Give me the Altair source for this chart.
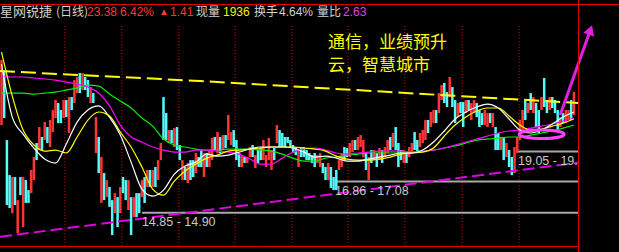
import altair as alt
import pandas as pd

# ---------------- data ----------------
hi = [27.68, 26.36, 19.97, 17.31, 17.17, 17.17, 15.63, 17.17, 17.17, 16.96,
      16.28, 17.67, 18.63, 19.73, 21.06, 20.22, 21.49, 21.06, 21.67, 22.57,
      23.51, 23.23, 22.57, 23.51, 23.51, 23.80, 23.80, 25.51, 25.83, 26.25,
      26.25, 25.83, 25.51, 24.79, 24.19, 21.93, 20.22, 18.63, 17.45, 16.96,
      16.49, 15.63, 16.08, 15.82, 16.49, 17.17, 16.96, 16.96, 15.82, 15.82,
      16.08, 16.08, 16.96, 17.17, 17.67, 17.67, 17.67, 17.89, 18.40, 19.73,
      23.80, 22.29, 20.80, 20.80, 20.97, 21.06, 19.57, 18.40, 17.89, 18.18,
      18.40, 18.40, 18.94, 18.63, 19.17, 18.94, 18.94, 19.17, 20.14, 20.22,
      20.63, 20.22, 20.38, 20.38, 22.11, 20.63, 20.80, 19.97, 18.94, 18.78,
      18.63, 18.63, 19.41, 19.57, 18.78, 19.17, 19.33, 19.97, 18.78, 20.14,
      19.17, 19.33, 21.23, 20.80, 20.55, 20.22, 20.22, 19.97, 19.57, 19.41,
      19.17, 19.33, 19.41, 19.17, 18.94, 18.78, 18.94, 18.78, 18.94, 18.18,
      17.89, 18.18, 17.89, 17.17, 17.67, 18.40, 18.94, 19.41, 19.33, 19.73,
      19.97, 19.97, 20.22, 20.38, 19.97, 19.01, 18.63, 19.17, 19.17, 18.94,
      19.33, 19.17, 19.41, 19.97, 20.22, 20.55, 21.06, 19.73, 19.17, 19.17,
      18.94, 19.41, 19.73, 20.63, 19.97, 20.55, 20.80, 21.67, 21.67, 22.39,
      22.57, 22.57, 24.19, 24.99, 25.20, 24.29, 25.83, 24.79, 23.51, 23.23,
      23.32, 23.32, 23.51, 23.51, 23.23, 23.51, 23.23, 22.57, 22.29, 22.57,
      22.29, 22.29, 22.29, 21.06, 20.55, 20.22, 20.22, 19.73, 19.17, 18.63,
      19.41, 20.22, 21.67, 22.57, 23.51, 23.23, 24.19, 23.80, 23.23, 22.57,
      23.80, 25.72, 23.51, 23.80, 23.80, 23.51, 22.57, 21.93, 22.29, 22.57,
      22.57, 23.51, 24.29]
lo = [21.23, 21.85, 15.32, 15.13, 14.82, 15.32, 13.66, 15.95, 14.00, 15.45,
      15.45, 16.08, 16.96, 18.40, 19.17, 19.17, 19.97, 19.73, 19.41, 20.63,
      21.85, 21.40, 21.40, 21.85, 21.93, 20.55, 22.57, 23.23, 24.19, 24.19,
      24.49, 24.49, 23.80, 23.23, 23.23, 18.94, 17.45, 15.45, 15.63, 15.82,
      15.20, 13.55, 14.82, 14.00, 14.82, 16.08, 15.63, 15.01, 13.55, 14.58,
      14.58, 14.82, 15.82, 15.45, 16.49, 16.49, 16.49, 16.49, 16.96, 18.40,
      19.97, 19.97, 19.73, 19.73, 19.41, 19.17, 18.40, 16.96, 16.96, 16.76,
      16.96, 17.17, 17.45, 17.89, 17.89, 17.17, 17.89, 17.89, 18.40, 19.17,
      18.94, 18.94, 19.17, 19.33, 19.97, 19.57, 19.41, 18.40, 17.89, 17.89,
      18.18, 18.18, 18.63, 18.63, 17.82, 18.18, 18.40, 18.40, 17.89, 18.40,
      17.67, 18.40, 19.73, 19.41, 19.41, 19.41, 19.73, 19.41, 18.94, 18.78,
      17.89, 18.63, 18.63, 18.40, 18.40, 18.18, 17.89, 18.18, 17.89, 17.45,
      16.96, 16.96, 16.42, 16.28, 16.28, 17.67, 17.89, 18.40, 18.63, 18.63,
      19.01, 19.17, 19.17, 19.41, 18.63, 17.67, 16.96, 18.18, 18.40, 17.89,
      18.40, 18.18, 18.63, 18.94, 19.17, 19.41, 19.17, 17.89, 18.40, 18.18,
      18.18, 18.63, 18.94, 19.17, 18.94, 19.41, 19.73, 19.97, 20.55, 21.06,
      21.40, 21.40, 22.29, 23.51, 23.23, 22.85, 23.80, 22.85, 21.40, 21.93,
      22.29, 21.06, 22.29, 22.57, 21.67, 22.29, 21.93, 21.06, 21.23, 21.23,
      21.06, 21.40, 21.06, 19.17, 19.17, 19.17, 18.40, 18.63, 17.89, 17.31,
      17.45, 18.94, 19.97, 20.80, 21.67, 22.29, 22.57, 22.29, 21.06, 20.55,
      22.57, 22.85, 22.29, 22.57, 22.76, 22.29, 20.80, 21.06, 21.40, 21.40,
      21.67, 21.67, 22.11]
up = [1, 0, 0, 0, 1, 0, 1, 0, 1, 0,
      0, 1, 1, 0, 1, 0, 1, 0, 1, 1,
      1, 0, 0, 1, 0, 1, 0, 1, 1, 0,
      1, 0, 0, 1, 0, 1, 0, 1, 0, 1,
      0, 0, 1, 0, 1, 0, 0, 1, 0, 1,
      0, 0, 1, 0, 1, 0, 1, 0, 1, 1,
      0, 0, 1, 0, 1, 0, 0, 1, 0, 1,
      0, 0, 1, 0, 0, 1, 0, 1, 1, 0,
      1, 0, 1, 0, 1, 1, 0, 0, 0, 1,
      0, 1, 1, 0, 1, 0, 0, 1, 1, 1,
      1, 0, 1, 0, 0, 0, 0, 0, 0, 0,
      1, 0, 0, 0, 0, 0, 0, 1, 1, 0,
      0, 1, 0, 0, 0, 1, 1, 0, 0, 1,
      1, 0, 1, 1, 1, 0, 1, 0, 1, 0,
      1, 0, 1, 1, 0, 1, 0, 0, 0, 1,
      0, 1, 1, 0, 0, 1, 1, 1, 0, 1,
      1, 0, 1, 1, 0, 0, 1, 0, 0, 1,
      0, 0, 1, 0, 1, 1, 0, 0, 0, 1,
      1, 0, 1, 0, 0, 1, 0, 1, 0, 0,
      1, 1, 1, 1, 0, 1, 0, 1, 0, 0,
      1, 0, 0, 1, 0, 0, 0, 1, 0, 1,
      1, 0, 1]

ma_idx = list(range(0, 213, 4))
ma_white = [27.23, 21.93, 20.46, 19.33, 18.48, 18.18, 19.65, 21.49, 22.57, 22.95,
            21.93, 20.38, 18.25, 16.35, 15.89, 16.28, 17.38, 17.96, 18.25, 18.86,
            18.70, 18.78, 19.01, 19.25, 19.41, 19.41, 19.41, 19.33, 19.01, 18.63,
            18.70, 18.55, 18.33, 18.33, 18.48, 18.63, 18.78, 18.94, 18.94, 19.17,
            19.81, 20.72, 21.76, 22.39, 22.85, 23.13, 22.76, 21.76, 20.80, 20.55,
            20.80, 21.32, 21.93, 22.39]
ma_yellow = [28.60, 23.89, 20.80, 19.57, 19.09, 19.17, 18.94, 20.22, 21.67, 22.39,
             22.02, 20.63, 19.41, 17.89, 16.35, 15.95, 16.89, 17.60, 18.10, 18.55,
             18.78, 19.09, 19.17, 19.25, 19.33, 19.41, 19.41, 19.41, 19.33, 19.25,
             19.09, 18.70, 18.48, 18.40, 18.40, 18.48, 18.63, 18.86, 18.94, 19.01,
             19.33, 20.30, 21.23, 21.93, 22.48, 22.76, 22.76, 22.02, 21.23, 20.80,
             20.89, 21.14, 21.40, 21.76]
ma_magenta = [25.93, 25.83, 25.83, 25.72, 25.62, 25.51, 25.30, 25.09, 24.79, 24.19,
              22.95, 21.23, 20.22, 19.81, 19.41, 19.17, 19.01, 19.01, 19.17, 19.17,
              19.09, 19.01, 18.86, 18.48, 18.10, 18.10, 18.55, 19.01, 19.25, 19.33,
              19.17, 18.94, 18.86, 18.94, 19.01, 19.09, 19.09, 19.09, 19.01, 19.09,
              19.17, 19.33, 19.57, 19.81, 20.05, 20.30, 20.55, 20.72, 20.80, 20.97,
              21.14, 21.32, 21.58, 21.85]
ma_green = [24.19, 24.19, 24.19, 24.09, 24.19, 24.29, 24.49, 24.69, 24.99, 24.89,
            24.09, 23.42, 22.76, 21.85, 21.14, 20.05, 19.57, 19.41, 19.25, 19.17,
            19.17, 19.25, 19.25, 19.25, 19.17, 19.09, 18.86, 18.55, 18.33, 18.33,
            18.55, 18.63, 18.78, 18.86, 18.94, 18.94, 18.94, 18.94, 19.01, 19.09,
            19.17, 19.33, 19.49, 19.73, 19.97, 20.05, 20.13, 20.22, 20.22, 20.38,
            20.55, 20.72, 20.97, 21.23]

long_idx = [-0.556, 73.5, 143.9, 213.52]
long_ma = [26.46, 25.41, 24.29, 23.23]
trend_idx = [-0.556, 213.52]
trend_p = [13.46, 18.21]

month_idx = [23.5, 44.6, 65.7, 86.5, 107.6, 128.3, 149.4, 170.6, 191.7]

level_start = [52.0, 123.5, 191.3]
level_price = [14.85, 16.86, 19.05]
level_text = ["14.85 - 14.90", "16.86 - 17.08", "19.05 - 19."]

ellipse_idx = [200.07]
ellipse_price = [20.45]
arrow_idx = [206.9, 218.1]
arrow_price = [22.11, 31.29]

y_ticks = [14, 15, 16, 17, 18, 19, 21, 23, 25.1]

head_cn = ["星网锐捷", "(日线)", "现量", "换手", "量比"]
head_num = ["23.38", "6.42%", "▲", "1.41", "1936", "4.64%", "2.63"]
note_lines = ["通信，业绩预升", "云，智慧城市"]

# ---------------- styling / layout ----------------
RED = "#ff3434"
CYAN = "#54fcfc"
GRAY = "#d0d0d0"
FRAME = "#e00000"
W, H = 578, 242
X_END = 213.52

xscale = alt.Scale(domain=[-0.556, X_END], nice=False, zero=False)
yscale = alt.Scale(type="log", domain=[12.96, 34.79], nice=False)


def X(f):
    return alt.X(f, type="quantitative", scale=xscale, axis=None)


def Y(f, axis=None):
    return alt.Y(f, type="quantitative", scale=yscale, axis=axis)


yaxis = alt.Axis(orient="right", values=y_ticks, format=".1f", labelColor="#ff3c3c",
                 labelFont="Liberation Sans", labelFontSize=12.5, ticks=False, tickSize=0,
                 domain=False, grid=False, labelPadding=18, labelBaseline="middle",
                 title=None, labelOverlap=False, labelFlush=False)

cdf = pd.DataFrame({"i": list(range(len(hi))), "hi": hi, "lo": lo,
                    "dir": ["up" if u else "down" for u in up]})

months = alt.Chart(pd.DataFrame({"i": month_idx})).mark_rule(
    color="#d00000", strokeWidth=1, strokeDash=[1, 2]).encode(
    x=X("i"), y=alt.value(22), y2=alt.value(H))

ldf = pd.DataFrame({"s": level_start, "e": [X_END] * len(level_start),
                    "p": level_price, "t": level_text})
levels = alt.Chart(ldf).mark_rule(color="#a8a8a8", strokeWidth=2).encode(
    x=X("s"), x2="e", y=Y("p"))
level_lbl = alt.Chart(ldf).mark_text(
    align="left", baseline="top", dy=3, dx=0, font="Liberation Sans",
    fontSize=12.5, color="#c8c8c8").encode(x=X("s"), y=Y("p"), text="t:N")

candles = alt.Chart(cdf).mark_rule(strokeWidth=2.5).encode(
    x=X("i"), y=Y("lo", yaxis), y2=alt.Y2("hi"),
    color=alt.Color("dir:N", scale=alt.Scale(domain=["up", "down"], range=[RED, CYAN]),
                    legend=None))


def ma_line(vals, color, width=1.2):
    return alt.Chart(pd.DataFrame({"i": ma_idx, "p": vals})).mark_line(
        color=color, strokeWidth=width, interpolate="monotone").encode(x=X("i"), y=Y("p"))


mas = [ma_line(ma_green, "#00ee00"), ma_line(ma_magenta, "#ff00ff"),
       ma_line(ma_yellow, "#ffff00"), ma_line(ma_white, "#ffffff")]

long_line = alt.Chart(pd.DataFrame({"i": long_idx, "p": long_ma})).mark_line(
    color="#ffff00", strokeWidth=2, strokeDash=[15, 6]).encode(x=X("i"), y=Y("p"))
trend_line = alt.Chart(pd.DataFrame({"i": trend_idx, "p": trend_p})).mark_line(
    color="#e000e0", strokeWidth=2, strokeDash=[12, 5]).encode(x=X("i"), y=Y("p"))

ELLIPSE = ("M-1,0C-1,-0.105,-0.552,-0.19,0,-0.19C0.552,-0.19,1,-0.105,1,0"
           "C1,0.105,0.552,0.19,0,0.19C-0.552,0.19,-1,0.105,-1,0Z")
ellipse = alt.Chart(pd.DataFrame({"i": ellipse_idx, "p": ellipse_price})).mark_point(
    shape=ELLIPSE, size=2025, filled=False, strokeWidth=3, color="#ff40ff",
    opacity=1).encode(x=X("i"), y=Y("p"))

adf = pd.DataFrame({"i": arrow_idx, "p": arrow_price})
arrow = alt.Chart(adf).mark_line(color="#e020e0", strokeWidth=3).encode(
    x=X("i"), y=Y("p"))
arrow_head = alt.Chart(adf.tail(1)).mark_point(
    shape="triangle-up", size=130, filled=True, color="#e020e0", opacity=1,
    angle=20).encode(x=X("i"), y=Y("p"))

hcn = pd.DataFrame({"t": head_cn, "px": [0, 56, 196, 254, 317],
                    "fs": [13, 12, 12, 12, 12]})
head_cn_layer = alt.Chart(hcn).mark_text(
    align="left", baseline="middle", font="Noto Sans CJK SC", color=GRAY).encode(
    x=alt.X("px:Q", scale=None, axis=None), y=alt.value(8),
    text="t:N", size=alt.Size("fs:Q", scale=None, legend=None))
hnum = pd.DataFrame({"t": head_num, "px": [87, 120, 159, 170, 223, 279, 343],
                     "col": [RED, RED, RED, RED, "#f0f000", GRAY, "#e040e0"],
                     "fs": [12, 12, 10, 12, 12, 12, 12]})
head_num_layer = alt.Chart(hnum).mark_text(
    align="left", baseline="middle", font="Liberation Sans").encode(
    x=alt.X("px:Q", scale=None, axis=None), y=alt.value(8),
    text="t:N", color=alt.Color("col:N", scale=None),
    size=alt.Size("fs:Q", scale=None, legend=None))

ndf = pd.DataFrame({"t": note_lines, "py": [39, 62]})
note = alt.Chart(ndf).mark_text(
    align="left", baseline="middle", font="Noto Sans CJK SC", fontSize=17,
    color="#ffff00").encode(x=alt.value(328), y=alt.Y("py:Q", scale=None, axis=None),
                            text="t:N")

frame_src = alt.Chart(pd.DataFrame({"a": [0]}))
frame_top = frame_src.mark_rule(color=FRAME, strokeWidth=1).encode(
    x=alt.value(0), x2=alt.value(619), y=alt.value(0.5))
frame_bottom = frame_src.mark_rule(color=FRAME, strokeWidth=1).encode(
    x=alt.value(0), x2=alt.value(W), y=alt.value(H + 0.5))
frame_right = frame_src.mark_rule(color=FRAME, strokeWidth=1).encode(
    x=alt.value(W + 0.5), y=alt.value(-4), y2=alt.value(H + 6))

chart = alt.layer(
    months, levels, candles, *mas, long_line, trend_line, level_lbl,
    ellipse, arrow, arrow_head, head_cn_layer, head_num_layer, note,
    frame_top, frame_bottom, frame_right
).properties(
    width=W, height=H,
    padding={"left": 0, "top": 4, "right": 41, "bottom": 6},
    autosize="none", background="black"
).configure_view(stroke=None, fill="black")

chart.save("out.html", embed_options={"renderer": "svg", "actions": False})
